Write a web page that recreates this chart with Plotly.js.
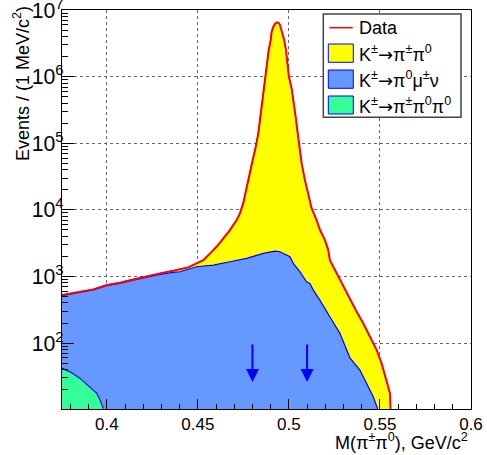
<!DOCTYPE html>
<html>
<head>
<meta charset="utf-8">
<script src="https://cdn.plot.ly/plotly-3.0.1.min.js"></script>
<style>html,body{margin:0;padding:0;background:#fff;}#chart{width:487px;height:455px;}</style>
</head>
<body>
<div id="chart"></div>
<script>
// ---- Data (M(pi+- pi0) in GeV/c^2, events per 1 MeV/c^2) ----
const massData = [0.3754, 0.3816, 0.3870, 0.3926, 0.4000, 0.4072, 0.4145, 0.4219, 0.4292, 0.4365,
  0.4447, 0.4493, 0.4530, 0.4567, 0.4603, 0.4640, 0.4676, 0.4713, 0.4731, 0.4749,
  0.4768, 0.4786, 0.4801, 0.4814, 0.4832, 0.4841, 0.4850, 0.4863, 0.4872, 0.4881,
  0.4889, 0.4900, 0.4905, 0.4914, 0.4925, 0.4935, 0.4945, 0.4951, 0.4960, 0.4974,
  0.4984, 0.4991, 0.5000, 0.5015, 0.5027, 0.5037, 0.5046, 0.5057, 0.5066, 0.5070,
  0.5088, 0.5106, 0.5125, 0.5152, 0.5171, 0.5198, 0.5216, 0.5225, 0.5262, 0.5298,
  0.5335, 0.5372, 0.5408, 0.5445, 0.5482, 0.5509, 0.5537, 0.5555, 0.5558];
const eventsData = [526, 569, 610, 640, 743, 804, 904, 1013, 1113, 1218,
  1371, 1573, 1763, 2223, 2794, 3733, 4979, 7031, 8854, 12520,
  22240, 39610, 55950, 79070, 141000, 223000, 353000, 560000, 996000, 1580000,
  2510000, 3550000, 4720000, 5600000, 6300000, 6550000, 6400000, 5960000, 5000000, 3550000,
  2510000, 1580000, 1000000, 667000, 420000, 250000, 158000, 99600, 62700, 49900,
  28000, 17700, 10500, 7030, 4980, 3520, 2490, 1763, 1113, 700,
  442, 295, 198, 124, 78.5, 49.5, 27.8, 17.6, 10.3];

// K+- -> pi0 mu+- nu stacked on K+- -> pi+- pi0 pi0 (top of blue area)
const massMu = [0.3754, 0.3816, 0.3870, 0.3926, 0.4000, 0.4072, 0.4145, 0.4219, 0.4292, 0.4365,
  0.4402, 0.4493, 0.4585, 0.4676, 0.4768, 0.4859, 0.4923, 0.4951, 0.4988, 0.5006,
  0.5024, 0.5060, 0.5097, 0.5115, 0.5134, 0.5170, 0.5225, 0.5280, 0.5335, 0.5390,
  0.5427, 0.5463, 0.5487];
const stackMu = [515, 556, 596, 626, 727, 787, 884, 985, 1075, 1150,
  1178, 1400, 1483, 1663, 1871, 2223, 2405, 2350, 2094, 1976,
  1573, 1180, 832, 787, 625, 442, 248, 140, 60, 39.4,
  24.8, 15.6, 10.3];

// K+- -> pi+- pi0 pi0
const mass3pi = [0.3754, 0.3798, 0.3853, 0.3908, 0.3945, 0.3963, 0.3981];
const events3pi = [41.7, 37, 29.5, 22, 17.6, 13.9, 10.4];

// selection cut positions (arrows)
const cutEdges = [0.48, 0.51];

const ARROW = '<span style="font-family:DejaVu Sans">→</span>';
const legendLabels = ['Data',
  'K<sup>±</sup>' + ARROW + 'π<sup>±</sup>π<sup>0</sup>',
  'K<sup>±</sup>' + ARROW + 'π<sup>0</sup>μ<sup>±</sup>ν',
  'K<sup>±</sup>' + ARROW + 'π<sup>±</sup>π<sup>0</sup>π<sup>0</sup>'];

// ---- styling ----
const YELLOW = '#ffff00', BLUE = '#6699ff', GREEN = '#33ff99', EDGE = '#0000ff', RED = '#ff0000';
const FONT = 'Liberation Sans, Arial, Helvetica, sans-serif';
const W = 487, H = 455, L = 62, R = 16, T = 10, B = 46;
const PW = W - L - R, PH = H - T - B;
const px = v => (v - L) / PW;
const py = v => (T + PH - v) / PH;

const traces = [
  {x: massData, y: eventsData, type: 'scatter', mode: 'lines', fill: 'tozeroy',
   fillcolor: YELLOW, line: {color: EDGE, width: 1}, hoverinfo: 'skip', showlegend: false},
  {x: massMu, y: stackMu, type: 'scatter', mode: 'lines', fill: 'tozeroy',
   fillcolor: BLUE, line: {color: EDGE, width: 1.2}, hoverinfo: 'skip', showlegend: false},
  {x: mass3pi, y: events3pi, type: 'scatter', mode: 'lines', fill: 'tozeroy',
   fillcolor: GREEN, line: {color: EDGE, width: 1.2}, hoverinfo: 'skip', showlegend: false},
  {x: massData, y: eventsData, type: 'scatter', mode: 'lines',
   line: {color: RED, width: 2}, hoverinfo: 'skip', showlegend: false}
];

const annotations = [];
// arrows marking the cut
cutEdges.forEach(c => {
  annotations.push({x: c, y: Math.log10(26), ax: c, ay: 2.0, xref: 'x', yref: 'y', axref: 'x', ayref: 'y',
    text: '', showarrow: true, arrowhead: 2, arrowsize: 1.3, arrowwidth: 2, arrowcolor: EDGE, standoff: 0});
});
// axis titles
annotations.push({x: px(470), y: py(441), xref: 'paper', yref: 'paper', xanchor: 'right', yanchor: 'middle',
  text: 'M(π<sup>±</sup>π<sup>0</sup>), GeV/c<sup>2</sup>', showarrow: false, font: {family: FONT, size: 18, color: '#000'}});
annotations.push({x: px(21), y: py(84), xref: 'paper', yref: 'paper', xanchor: 'center', yanchor: 'middle',
  textangle: -90, text: 'Events / (1 MeV/c<sup>2</sup>)', showarrow: false, font: {family: FONT, size: 18, color: '#000'}});
// legend texts
const legTextY = [28, 53, 79, 105];
legendLabels.forEach((t, i) => {
  annotations.push({x: px(357), y: py(legTextY[i]), xref: 'paper', yref: 'paper', xanchor: 'left', yanchor: 'middle',
    text: t, showarrow: false, font: {family: FONT, size: 18, color: '#000'}});
});

const shapes = [
  {type: 'rect', xref: 'paper', yref: 'paper', x0: px(323.3), x1: px(461), y0: py(117.3), y1: py(14),
   fillcolor: '#fff', line: {color: '#444', width: 1.5}},
  {type: 'line', xref: 'paper', yref: 'paper', x0: px(329.3), x1: px(352.7), y0: py(27.7), y1: py(27.7),
   line: {color: RED, width: 1.5}},
  {type: 'rect', xref: 'paper', yref: 'paper', x0: px(328.3), x1: px(353.3), y0: py(62.3), y1: py(44),
   fillcolor: YELLOW, line: {color: EDGE, width: 1}},
  {type: 'rect', xref: 'paper', yref: 'paper', x0: px(328.3), x1: px(353.3), y0: py(88.3), y1: py(70),
   fillcolor: BLUE, line: {color: EDGE, width: 1}},
  {type: 'rect', xref: 'paper', yref: 'paper', x0: px(328.3), x1: px(353.3), y0: py(114), y1: py(96),
   fillcolor: GREEN, line: {color: EDGE, width: 1}}
];

const layout = {
  width: W, height: H,
  margin: {l: L, r: R, t: T, b: B, pad: 0},
  paper_bgcolor: '#fff', plot_bgcolor: '#fff',
  showlegend: false,
  font: {family: FONT, size: 17, color: '#000'},
  xaxis: {
    range: [0.3754, 0.6], type: 'linear',
    tickmode: 'array', tickvals: [0.4, 0.45, 0.5, 0.55, 0.6], ticktext: ['0.4', '0.45', '0.5', '0.55', '0.6'],
    ticks: 'inside', ticklen: 10, tickwidth: 1, tickcolor: '#000',
    ticklabeloverflow: 'allow',
    minor: {dtick: 0.01, tick0: 0.4, ticks: 'inside', ticklen: 5, tickcolor: '#000', showgrid: false},
    showgrid: true, gridcolor: '#666', griddash: 'dot', gridwidth: 1,
    showline: true, linecolor: '#000', linewidth: 1, mirror: true,
    zeroline: false, tickfont: {family: FONT, size: 17, color: '#000'}
  },
  yaxis: {
    type: 'log', range: [1.01, 7.002], dtick: 1,
    exponentformat: 'power', showexponent: 'all',
    ticks: 'inside', ticklen: 12, tickwidth: 1, tickcolor: '#000',
    ticklabelstandoff: -6, ticklabeloverflow: 'allow',
    minor: {dtick: 'D1', ticks: 'inside', ticklen: 6, tickcolor: '#000', showgrid: false},
    showgrid: true, gridcolor: '#666', griddash: 'dot', gridwidth: 1,
    showline: true, linecolor: '#000', linewidth: 1, mirror: true,
    zeroline: false, tickfont: {family: FONT, size: 17, color: '#000'}
  },
  shapes: shapes,
  annotations: annotations
};

Plotly.newPlot('chart', traces, layout, {displayModeBar: false, staticPlot: true});
</script>
</body>
</html>
